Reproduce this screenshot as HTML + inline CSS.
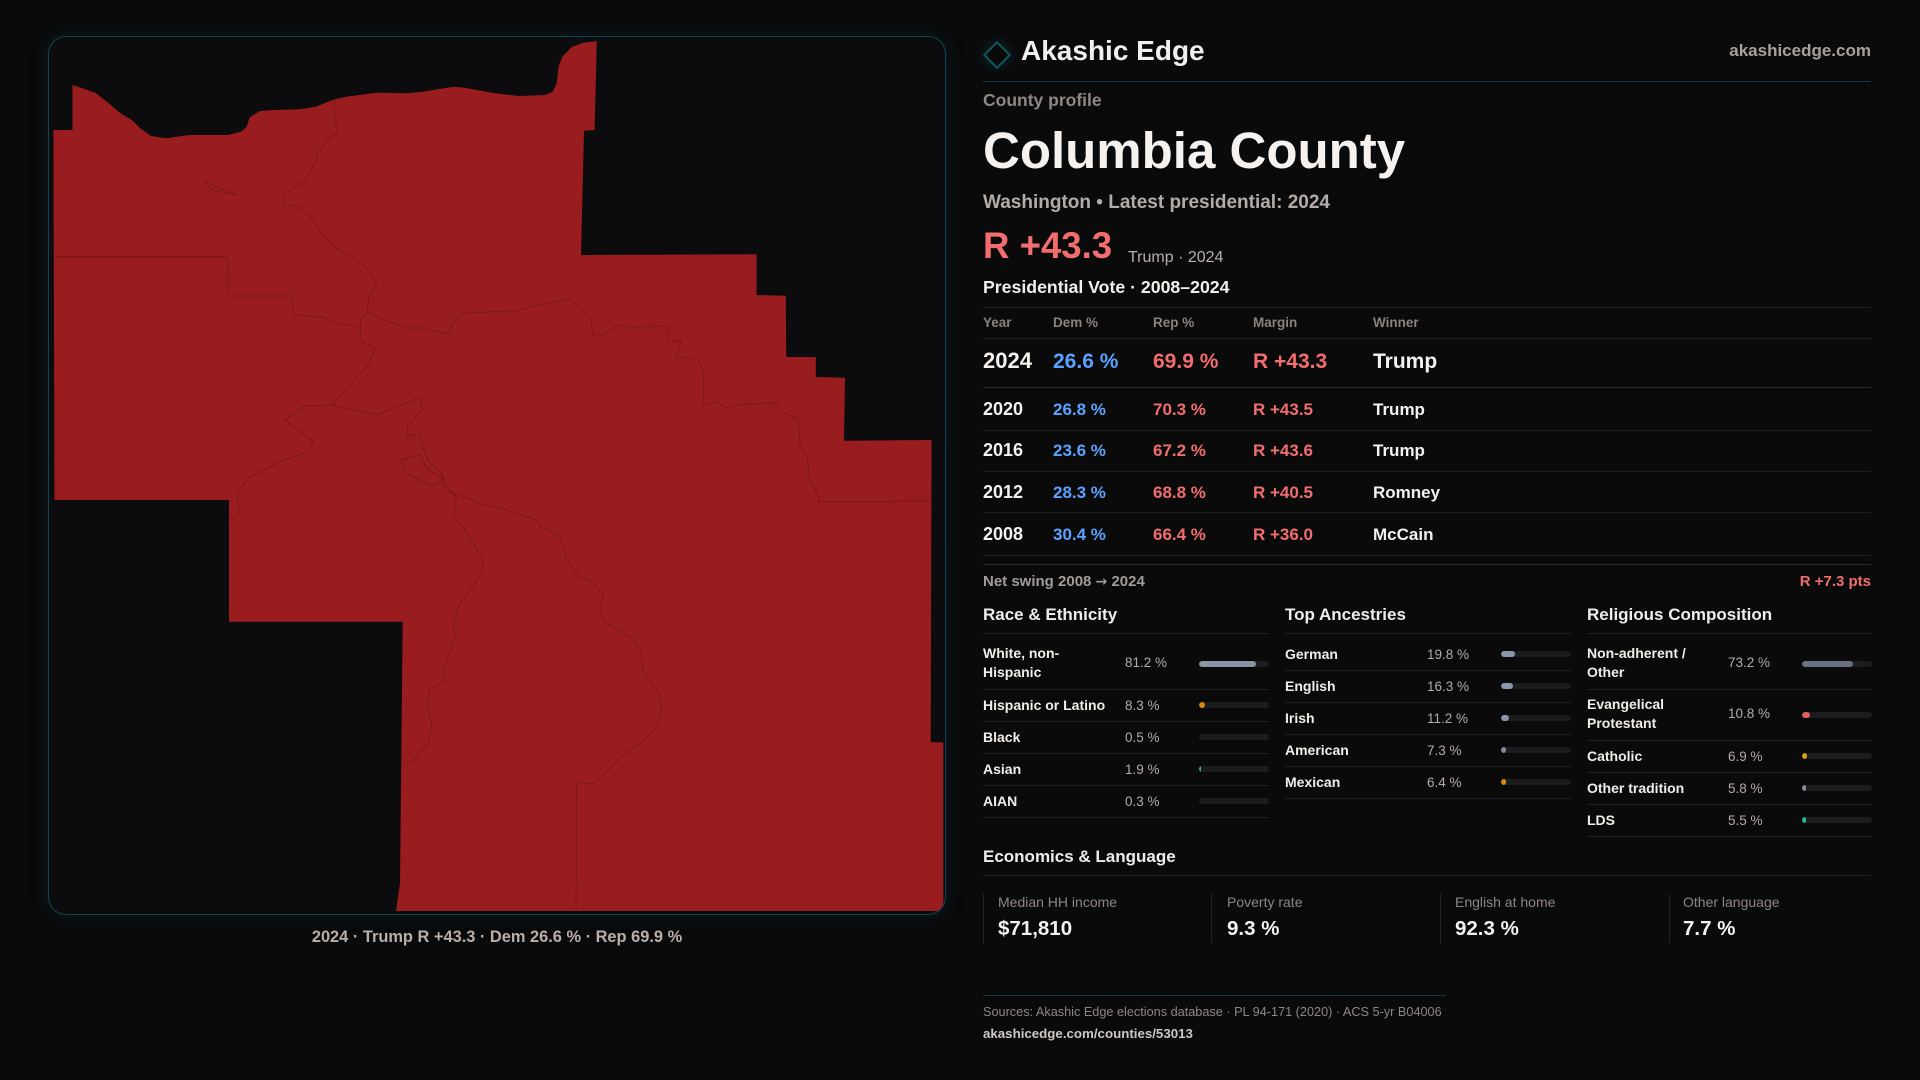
<!DOCTYPE html>
<html><head><meta charset="utf-8">
<style>
*{margin:0;padding:0;box-sizing:border-box}
html,body{width:1920px;height:1080px;background:#0a0a0b;overflow:hidden}
body{position:relative;font-family:"Liberation Sans",sans-serif;color:#f4f1ee}
.t{position:absolute;white-space:nowrap;line-height:1}
.b{font-weight:bold}
.hl{position:absolute;height:1px;background:#1e1e21}
.g{color:#8c8480}
.v{color:#b4aba6;font-size:13.5px}
.lab{font-weight:bold;font-size:14px;color:#f1ede9}
.trk{position:absolute;width:70px;height:6px;border-radius:3px;background:#1c1c1f;overflow:hidden}
.trk i{position:absolute;left:0;top:0;height:6px;border-radius:3px}
.blue{color:#5aa2ff}.red{color:#f26d6d}
.card{position:absolute;top:894px;height:49px;border-left:1px solid #232327}
</style></head><body>

<!-- MAP PANEL -->
<div style="position:absolute;left:48px;top:36px;width:898px;height:879px;border:1px solid #0f4652;border-radius:18px;background:#0c0b0d;overflow:hidden;box-shadow:0 0 18px rgba(15,70,82,0.25)">
<svg style="position:absolute;left:-49px;top:-37px" width="1920" height="1080" viewBox="0 0 1920 1080">
<path fill="#991c1e" d="M72.5,85 L72.5,130 L53.4,130 L54.5,500 L229,500 L229,621.7 L402.7,621.7 L400,883 L396,911 L943.3,911 L943.3,742.3 L930.7,742.3 L931.6,440 L844,440.7 L845,377.7 L815.8,377 L815.8,357 L786.2,357 L785.8,295.7 L756.6,295 L756.6,254.3 L581,255 L584,130.7 L594.6,130 L596.8,41 L583.4,42.7 L572,46.7 L562.4,56.7 L558.6,66.7 L556.6,83.3 L552.8,91.7 L545,95 L518.4,96 L491.6,92.7 L464.8,87.7 L453.3,86.7 L422.7,91.7 L407.4,93.3 L376.8,92.7 L346,96.7 L332.8,100 L315.5,106.7 L300,109.3 L273.4,110 L260,111 L249.7,117.3 L246.7,126.7 L241,131.7 L227.5,135 L189,135 L166.3,138.3 L151,136 L140.3,128.3 L131.8,120 L120.4,113.3 L110.8,105 L95.5,92.7 L82.1,88.3 Z"/>
<g fill="none" stroke="#6e1518" stroke-width="0.8" stroke-opacity="0.8">
<polyline points="334,100 334.7,116.7 337.8,133 331,136.7 317.5,153 315.5,163 304,181.7 285,193 283,203 300,208 310,216.7 321,233 338.5,250 357.6,260 371,273 376.8,283 369,296.7 367,313 360.7,320 360,341.7 376,348 367,366.7 342,393 332.8,405"/>
<polyline points="54.5,256.7 227.5,256.7 228,296 290.7,296 294.5,315 323,317 336.6,323 359.6,327"/>
<polyline points="368,313 392,323 407,328 422.7,328 447.6,334 455,320 464.8,313 518,310.7 533.7,306 570,299 591,320 593,335 602.6,335 618,325 631.6,327 667.8,326 667.8,340.7 681.5,341.7 676,355 689,359 698,358 703.7,373 703.7,405 714.8,401.7 726,408 744,404 777.7,403 778.8,411.7 798,418 800,445 807.3,456.7 809,476.7 820,500 817.7,501.7 931.6,501"/>
<polyline points="285,420 304,406 331,405 376.8,415 407.4,403 418.9,396.7 422.7,408 407.4,426.7 407.4,435 419.6,435 424.6,453.3 430,463 441.8,473 443.7,485 453,493 480,503.3 506.7,510 536.7,520 540,526.7 560,536.7 566.7,560 580,576.7 593.3,583.3 603.3,595 600,611.7 603.3,621.7 633.3,638.3 640,650 643.3,671.7 650,680 660,695 661.7,710 656.7,726.7 640,743.3 621.7,756.7 606.7,771.7 593.3,784 576.7,781.7 576,910"/>
<polyline points="285,420 313.6,441.7 308,451.7 285,460 269.6,466.7 248.6,478 237,493 239,510 241.7,511.7 228,521.7"/>
<polyline points="446.7,490 456.7,496.7 453.3,516.7 463.3,526.7 473.3,543.3 483.3,560 481.7,571.7 473.3,586.7 460,603.3 453.3,623.3 455,636.7 443.3,670 445,681.7 430,688.3 426.7,703.3 431.7,723.3 428.3,743.3 413.3,760 401.7,770"/>
<polyline points="205,182 215,186 225,190 237,195 228,193 212,190 205,182"/>
<polyline points="400,460 420,455 428,470 445,480 432,487 405,472 400,460"/>
</g>
</svg>
</div>
<div class="t b" style="left:48px;width:898px;text-align:center;top:928.8px;font-size:16.4px;color:#b8afa9">2024 · Trump R +43.3 · Dem 26.6 % · Rep 69.9 %</div>

<!-- HEADER -->
<div style="position:absolute;left:987px;top:45px;width:20px;height:20px;border:2px solid #0e5560;transform:rotate(45deg);box-shadow:0 0 12px rgba(20,110,120,0.35)"></div>
<div class="t b" style="left:1021px;top:37.2px;font-size:28px;color:#f3efec">Akashic Edge</div>
<div class="t b" style="right:49px;top:41.5px;font-size:17px;color:#a8a09c">akashicedge.com</div>
<div class="hl" style="left:983px;width:888px;top:81px;background:#113a42"></div>

<div class="t b" style="left:983px;top:92.1px;font-size:17.5px;color:#8f8784">County profile</div>
<div class="t b" style="left:983px;top:124.6px;font-size:51px;color:#f5f2ef">Columbia County</div>
<div class="t b" style="left:983px;top:192.9px;font-size:19px;color:#b3aba7">Washington • Latest presidential: 2024</div>
<div class="t b red" style="left:983px;top:227.9px;font-size:36.6px">R +43.3</div>
<div class="t" style="left:1128px;top:250.4px;font-size:16px;color:#b7afab">Trump · 2024</div>
<div class="t b" style="left:983px;top:279px;font-size:17.7px;color:#f3efec">Presidential Vote · 2008–2024</div>
<div class="hl" style="left:983px;width:888px;top:307px"></div>

<!-- TABLE -->
<div class="t b" style="left:983px;top:315.5px;font-size:13.5px;color:#8a827e">Year</div>
<div class="t b" style="left:1053px;top:315.5px;font-size:13.5px;color:#8a827e">Dem %</div>
<div class="t b" style="left:1153px;top:315.5px;font-size:13.5px;color:#8a827e">Rep %</div>
<div class="t b" style="left:1253px;top:315.5px;font-size:13.5px;color:#8a827e">Margin</div>
<div class="t b" style="left:1373px;top:315.5px;font-size:13.5px;color:#8a827e">Winner</div>
<div class="hl" style="left:983px;width:888px;top:338px"></div>

<div class="t b" style="left:983px;top:350.3px;font-size:22px">2024</div>
<div class="t b blue" style="left:1053px;top:351.2px;font-size:21px">26.6 %</div>
<div class="t b red" style="left:1153px;top:351.2px;font-size:21px">69.9 %</div>
<div class="t b red" style="left:1253px;top:351.2px;font-size:21px">R +43.3</div>
<div class="t b" style="left:1373px;top:351.2px;font-size:21px">Trump</div>
<div class="hl" style="left:983px;width:888px;top:387px;background:#2a2a2d"></div>

<div class="t b" style="left:983px;top:399.7px;font-size:18px">2020</div>
<div class="t b blue" style="left:1053px;top:400.5px;font-size:17px">26.8 %</div>
<div class="t b red" style="left:1153px;top:400.5px;font-size:17px">70.3 %</div>
<div class="t b red" style="left:1253px;top:400.5px;font-size:17px">R +43.5</div>
<div class="t b" style="left:1373px;top:400.5px;font-size:17px">Trump</div>
<div class="hl" style="left:983px;width:888px;top:430px"></div>

<div class="t b" style="left:983px;top:440.7px;font-size:18px">2016</div>
<div class="t b blue" style="left:1053px;top:441.5px;font-size:17px">23.6 %</div>
<div class="t b red" style="left:1153px;top:441.5px;font-size:17px">67.2 %</div>
<div class="t b red" style="left:1253px;top:441.5px;font-size:17px">R +43.6</div>
<div class="t b" style="left:1373px;top:441.5px;font-size:17px">Trump</div>
<div class="hl" style="left:983px;width:888px;top:471px"></div>

<div class="t b" style="left:983px;top:482.7px;font-size:18px">2012</div>
<div class="t b blue" style="left:1053px;top:483.5px;font-size:17px">28.3 %</div>
<div class="t b red" style="left:1153px;top:483.5px;font-size:17px">68.8 %</div>
<div class="t b red" style="left:1253px;top:483.5px;font-size:17px">R +40.5</div>
<div class="t b" style="left:1373px;top:483.5px;font-size:17px">Romney</div>
<div class="hl" style="left:983px;width:888px;top:512px"></div>

<div class="t b" style="left:983px;top:524.7px;font-size:18px">2008</div>
<div class="t b blue" style="left:1053px;top:525.5px;font-size:17px">30.4 %</div>
<div class="t b red" style="left:1153px;top:525.5px;font-size:17px">66.4 %</div>
<div class="t b red" style="left:1253px;top:525.5px;font-size:17px">R +36.0</div>
<div class="t b" style="left:1373px;top:525.5px;font-size:17px">McCain</div>
<div class="hl" style="left:983px;width:888px;top:555px"></div>
<div class="hl" style="left:983px;width:888px;top:564px;background:#2a2a2d"></div>

<div class="t b" style="left:983px;top:574.2px;font-size:15px;color:#a39b97">Net swing 2008 <span style="font-family:'DejaVu Sans',sans-serif;font-size:14px">→</span> 2024</div>
<div class="t b red" style="right:49px;top:574.2px;font-size:15px">R +7.3 pts</div>

<!-- SECTION HEADERS -->
<div class="t b" style="left:983px;top:605.5px;font-size:17px;color:#f0ece9">Race &amp; Ethnicity</div>
<div class="t b" style="left:1285px;top:605.5px;font-size:17px;color:#f0ece9">Top Ancestries</div>
<div class="t b" style="left:1587px;top:605.5px;font-size:17px;color:#f0ece9">Religious Composition</div>
<div class="hl" style="left:983px;width:286px;top:633px"></div>
<div class="hl" style="left:1285px;width:286px;top:633px"></div>
<div class="hl" style="left:1587px;width:285px;top:633px"></div>

<!-- RACE -->
<div class="t lab" style="left:983px;top:646.1px">White, non-</div>
<div class="t lab" style="left:983px;top:665.1px">Hispanic</div>
<div class="t v" style="left:1125px;top:655.5px">81.2 %</div>
<div class="trk" style="left:1199px;top:661px"><i style="width:57px;background:#8a94a5"></i></div>
<div class="hl" style="left:983px;width:286px;top:689px"></div>

<div class="t lab" style="left:983px;top:698.1px">Hispanic or Latino</div>
<div class="t v" style="left:1125px;top:698.5px">8.3 %</div>
<div class="trk" style="left:1199px;top:702px"><i style="width:6px;background:#d98a0b"></i></div>
<div class="hl" style="left:983px;width:286px;top:721px"></div>

<div class="t lab" style="left:983px;top:730.1px">Black</div>
<div class="t v" style="left:1125px;top:730.5px">0.5 %</div>
<div class="trk" style="left:1199px;top:734px"></div>
<div class="hl" style="left:983px;width:286px;top:753px"></div>

<div class="t lab" style="left:983px;top:762.1px">Asian</div>
<div class="t v" style="left:1125px;top:762.5px">1.9 %</div>
<div class="trk" style="left:1199px;top:766px"><i style="width:1.5px;background:#2bb39b"></i></div>
<div class="hl" style="left:983px;width:286px;top:785px"></div>

<div class="t lab" style="left:983px;top:794.1px">AIAN</div>
<div class="t v" style="left:1125px;top:794.5px">0.3 %</div>
<div class="trk" style="left:1199px;top:798px"></div>
<div class="hl" style="left:983px;width:286px;top:817px"></div>

<!-- ANCESTRY -->
<div class="t lab" style="left:1285px;top:647.1px">German</div>
<div class="t v" style="left:1427px;top:647.5px">19.8 %</div>
<div class="trk" style="left:1501px;top:651px"><i style="width:14px;background:#8a97aa"></i></div>
<div class="hl" style="left:1285px;width:286px;top:670px"></div>

<div class="t lab" style="left:1285px;top:679.1px">English</div>
<div class="t v" style="left:1427px;top:679.5px">16.3 %</div>
<div class="trk" style="left:1501px;top:683px"><i style="width:11.5px;background:#8a97aa"></i></div>
<div class="hl" style="left:1285px;width:286px;top:702px"></div>

<div class="t lab" style="left:1285px;top:711.1px">Irish</div>
<div class="t v" style="left:1427px;top:711.5px">11.2 %</div>
<div class="trk" style="left:1501px;top:715px"><i style="width:8px;background:#8a97aa"></i></div>
<div class="hl" style="left:1285px;width:286px;top:734px"></div>

<div class="t lab" style="left:1285px;top:743.1px">American</div>
<div class="t v" style="left:1427px;top:743.5px">7.3 %</div>
<div class="trk" style="left:1501px;top:747px"><i style="width:5px;background:#7f8a9c"></i></div>
<div class="hl" style="left:1285px;width:286px;top:766px"></div>

<div class="t lab" style="left:1285px;top:775.1px">Mexican</div>
<div class="t v" style="left:1427px;top:775.5px">6.4 %</div>
<div class="trk" style="left:1501px;top:779px"><i style="width:4.5px;background:#d98a0b"></i></div>
<div class="hl" style="left:1285px;width:286px;top:798px"></div>

<!-- RELIGION -->
<div class="t lab" style="left:1587px;top:646.1px">Non-adherent /</div>
<div class="t lab" style="left:1587px;top:665.1px">Other</div>
<div class="t v" style="left:1728px;top:655.5px">73.2 %</div>
<div class="trk" style="left:1802px;top:661px"><i style="width:51px;background:#6b7080"></i></div>
<div class="hl" style="left:1587px;width:285px;top:689px"></div>

<div class="t lab" style="left:1587px;top:697.1px">Evangelical</div>
<div class="t lab" style="left:1587px;top:716.1px">Protestant</div>
<div class="t v" style="left:1728px;top:707px">10.8 %</div>
<div class="trk" style="left:1802px;top:712px"><i style="width:7.5px;background:#e06060"></i></div>
<div class="hl" style="left:1587px;width:285px;top:740px"></div>

<div class="t lab" style="left:1587px;top:749.1px">Catholic</div>
<div class="t v" style="left:1728px;top:749.5px">6.9 %</div>
<div class="trk" style="left:1802px;top:753px"><i style="width:5px;background:#d9a012"></i></div>
<div class="hl" style="left:1587px;width:285px;top:772px"></div>

<div class="t lab" style="left:1587px;top:781.1px">Other tradition</div>
<div class="t v" style="left:1728px;top:781.5px">5.8 %</div>
<div class="trk" style="left:1802px;top:785px"><i style="width:4px;background:#8a8f9a"></i></div>
<div class="hl" style="left:1587px;width:285px;top:804px"></div>

<div class="t lab" style="left:1587px;top:813.1px">LDS</div>
<div class="t v" style="left:1728px;top:813.5px">5.5 %</div>
<div class="trk" style="left:1802px;top:817px"><i style="width:4px;background:#22b5a0"></i></div>
<div class="hl" style="left:1587px;width:285px;top:836px"></div>

<!-- ECONOMICS -->
<div class="t b" style="left:983px;top:847.5px;font-size:17px;color:#f0ece9">Economics &amp; Language</div>
<div class="hl" style="left:983px;width:888px;top:875px"></div>

<div class="card" style="left:983px"></div>
<div class="card" style="left:1211px"></div>
<div class="card" style="left:1440px"></div>
<div class="card" style="left:1669px"></div>
<div class="t" style="left:998px;top:895.1px;font-size:14px;color:#8f8683">Median HH income</div>
<div class="t b" style="left:998px;top:918.6px;font-size:20.5px">$71,810</div>
<div class="t" style="left:1227px;top:895.1px;font-size:14px;color:#8f8683">Poverty rate</div>
<div class="t b" style="left:1227px;top:918.6px;font-size:20.5px">9.3 %</div>
<div class="t" style="left:1455px;top:895.1px;font-size:14px;color:#8f8683">English at home</div>
<div class="t b" style="left:1455px;top:918.6px;font-size:20.5px">92.3 %</div>
<div class="t" style="left:1683px;top:895.1px;font-size:14px;color:#8f8683">Other language</div>
<div class="t b" style="left:1683px;top:918.6px;font-size:20.5px">7.7 %</div>

<!-- FOOTER -->
<div class="hl" style="left:983px;width:463px;top:995px;background:#123a44"></div>
<div class="t" style="left:983px;top:1006.2px;font-size:12.7px;color:#8e8682">Sources: Akashic Edge elections database · PL 94-171 (2020) · ACS 5-yr B04006</div>
<div class="t b" style="left:983px;top:1026.7px;font-size:13.3px;color:#cfc8c4">akashicedge.com/counties/53013</div>

</body></html>
